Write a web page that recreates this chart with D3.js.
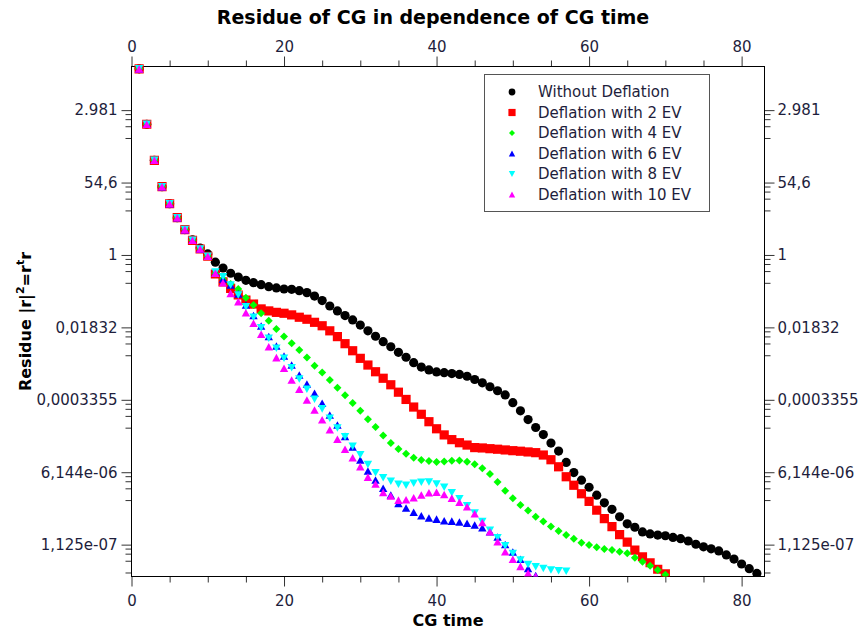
<!DOCTYPE html>
<html>
<head>
<meta charset="utf-8">
<script src="https://cdn.jsdelivr.net/npm/d3@7"></script>
<style>
  body { margin: 0; background: #fff; }
  text { font-family: "DejaVu Sans", Verdana, sans-serif; }
</style>
</head>
<body>
<svg id="chart" width="866" height="637"></svg>
<script>
// residue values, stored as ln(residue) because the axis is base-e log
// index i -> CG time i+1
const lnWithoutDeflation = [10.28, 7.22, 5.23, 3.77, 2.83, 2.06, 1.40, 0.83, 0.38, 0.06,
  -0.40, -0.72, -1.01, -1.22, -1.40, -1.53, -1.64, -1.75, -1.82, -1.88,
  -1.90, -1.97, -2.08, -2.27, -2.52, -2.82, -3.09, -3.35, -3.59, -3.87,
  -4.19, -4.49, -4.79, -5.07, -5.38, -5.65, -5.95, -6.19, -6.35, -6.46,
  -6.50, -6.55, -6.60, -6.70, -6.88, -7.06, -7.28, -7.50, -7.73, -8.16,
  -8.61, -9.09, -9.53, -9.92, -10.39, -10.83, -11.46, -12.02, -12.44, -12.83,
  -13.27, -13.69, -14.05, -14.46, -14.85, -15.04, -15.30, -15.41, -15.47, -15.51,
  -15.60, -15.67, -15.80, -15.98, -16.12, -16.23, -16.35, -16.57, -16.80, -17.07,
  -17.33, -17.59];
const lnDefl2 = [10.28, 7.22, 5.23, 3.77, 2.83, 2.06, 1.40, 0.81, 0.33, -0.07,
  -1.05, -1.49, -1.84, -2.21, -2.49, -2.71, -2.98, -3.09, -3.17, -3.22,
  -3.31, -3.44, -3.55, -3.72, -3.91, -4.19, -4.51, -4.90, -5.29, -5.71,
  -6.08, -6.45, -6.81, -7.17, -7.58, -7.98, -8.40, -8.80, -9.21, -9.60,
  -9.94, -10.20, -10.37, -10.50, -10.64, -10.66, -10.70, -10.73, -10.77, -10.81,
  -10.84, -10.88, -10.92, -11.05, -11.31, -11.70, -12.25, -12.72, -13.19, -13.61,
  -14.10, -14.56, -15.01, -15.45, -15.86, -16.30, -16.67, -17.00, -17.36, -17.62];
const lnDefl4 = [10.28, 7.22, 5.23, 3.77, 2.83, 2.06, 1.40, 0.81, 0.33, -0.07,
  -1.02, -1.33, -1.60, -1.88, -2.36, -2.76, -3.22, -3.63, -4.09, -4.51,
  -4.88, -5.25, -5.67, -6.12, -6.49, -6.91, -7.34, -7.75, -8.17, -8.60,
  -9.07, -9.50, -9.97, -10.39, -10.72, -10.98, -11.20, -11.33, -11.38, -11.44,
  -11.41, -11.36, -11.35, -11.42, -11.56, -11.78, -12.10, -12.54, -13.02, -13.44,
  -13.81, -14.12, -14.46, -14.72, -15.00, -15.25, -15.47, -15.67, -15.90, -16.02,
  -16.15, -16.24, -16.30, -16.39, -16.48, -16.72, -16.94, -17.17, -17.40, -17.66];
const lnDefl6 = [10.28, 7.22, 5.23, 3.77, 2.83, 2.06, 1.40, 0.81, 0.33, -0.07,
  -1.00, -1.33, -1.66, -2.15, -2.76, -3.34, -3.92, -4.50, -5.03, -5.58,
  -6.08, -6.63, -7.13, -7.64, -8.19, -8.84, -9.39, -10.02, -10.61, -11.33,
  -11.93, -12.43, -12.89, -13.26, -13.72, -13.98, -14.21, -14.40, -14.53, -14.59,
  -14.68, -14.70, -14.75, -14.82, -14.92, -15.07, -15.28, -15.58, -15.99, -16.41,
  -16.81, -17.32, -17.71];
const lnDefl8 = [10.28, 7.22, 5.23, 3.77, 2.83, 2.06, 1.40, 0.81, 0.33, -0.07,
  -0.94, -1.20, -1.66, -2.21, -2.86, -3.44, -4.02, -4.60, -5.15, -5.71,
  -6.23, -6.85, -7.42, -7.97, -8.50, -9.02, -9.56, -10.04, -10.57, -11.03,
  -11.57, -12.03, -12.31, -12.50, -12.66, -12.72, -12.61, -12.55, -12.54, -12.65,
  -12.83, -13.13, -13.47, -13.86, -14.25, -14.73, -15.21, -15.62, -16.07, -16.49,
  -16.85, -17.10, -17.22, -17.32, -17.40, -17.44, -17.47];
const lnDefl10 = [10.28, 7.22, 5.23, 3.77, 2.83, 2.06, 1.40, 0.81, 0.33, -0.07,
  -1.01, -1.53, -2.12, -2.58, -3.19, -3.77, -4.38, -5.07, -5.67, -6.26,
  -6.91, -7.42, -8.01, -8.56, -9.10, -9.65, -10.18, -10.73, -11.20, -11.69,
  -12.27, -12.65, -13.12, -13.31, -13.54, -13.52, -13.41, -13.26, -13.13, -13.11,
  -13.23, -13.43, -13.66, -13.91, -14.29, -14.78, -15.29, -15.84, -16.39, -16.81,
  -17.20, -17.57, -17.75];

const seriesNames = ["Without Deflation", "Deflation with 2 EV", "Deflation with 4 EV",
  "Deflation with 6 EV", "Deflation with 8 EV", "Deflation with 10 EV"];
const seriesValues = [lnWithoutDeflation, lnDefl2, lnDefl4, lnDefl6, lnDefl8, lnDefl10];
const seriesColors = ["#000000", "#ff0000", "#00ff00", "#0000ff", "#00ffff", "#ff00ff"];
const seriesShapes = ["circle", "square", "diamond", "triUp", "triDown", "triUp"];

const xMajorTicks = [0, 20, 40, 60, 80];
const yTickExps = [8, 4, 0, -4, -8, -12, -16];
const yTickLabels = ["2.981", "54,6", "1", "0,01832", "0,0003355", "6,144e-06", "1,125e-07"];

const plot = {left: 131.5, right: 764.5, top: 66.5, bottom: 576.5};
const labelColor = "#1e1e3c";

const svg = d3.select("#chart");

const x = d3.scaleLinear().domain([0, 83]).range([plot.left, plot.right]);
const y = d3.scaleLog().base(Math.E)
  .domain([Math.exp(-17.76), Math.exp(10.41)])
  .range([plot.bottom, plot.top]);

// marker shapes, s = half size
function shapePath(shape, s){
  if(shape == "circle"){
    return `M${-s},0a${s},${s} 0 1,0 ${2*s},0a${s},${s} 0 1,0 ${-2*s},0Z`;
  }
  if(shape == "square") return `M${-s},${-s}h${2*s}v${2*s}h${-2*s}Z`;
  if(shape == "diamond") return `M0,${-s}L${s},0L0,${s}L${-s},0Z`;
  var h = s * 0.9;
  if(shape == "triUp") return `M0,${-h}L${s},${h}L${-s},${h}Z`;
  return `M0,${h}L${s},${-h}L${-s},${-h}Z`;
}
const plotSize = {circle: 4.6, square: 4.6, diamond: 4, triUp: 4.2, triDown: 4.2};
const legendSize = {circle: 3.4, square: 3.6, diamond: 3, triUp: 3.2, triDown: 3.2};

// minor ticks
const xMinorTicks = d3.range(0, 85, 5).filter(d => xMajorTicks.indexOf(d) < 0);
const yMinorTicks = [];
for(var k = -5; k <= 2; k++){
  var lo = Math.exp(4*k), hi = Math.exp(4*k + 4);
  for(var i = 1; i < 5; i++){
    var v = lo + i*(hi - lo)/5;
    if(v > y.domain()[0] && v < y.domain()[1]) yMinorTicks.push(v);
  }
}
const yMajorTicks = yTickExps.map(e => Math.exp(e));

function styleAxis(g){
  g.select(".domain").remove();
  g.selectAll("line").attr("stroke", "#333");
  g.selectAll("text").attr("fill", labelColor)
    .style("font-family", '"DejaVu Sans", sans-serif').style("font-size", "15px");
}

// minor tick axes
svg.append("g").attr("transform", `translate(0,${plot.bottom})`)
  .call(d3.axisBottom(x).tickValues(xMinorTicks).tickSize(6).tickFormat("")).call(styleAxis);
svg.append("g").attr("transform", `translate(0,${plot.top})`)
  .call(d3.axisTop(x).tickValues(xMinorTicks).tickSize(6).tickFormat("")).call(styleAxis);
svg.append("g").attr("transform", `translate(${plot.left},0)`)
  .call(d3.axisLeft(y).tickValues(yMinorTicks).tickSize(6).tickFormat("")).call(styleAxis);
svg.append("g").attr("transform", `translate(${plot.right},0)`)
  .call(d3.axisRight(y).tickValues(yMinorTicks).tickSize(6).tickFormat("")).call(styleAxis);

// major tick axes
svg.append("g").attr("transform", `translate(0,${plot.bottom})`)
  .call(d3.axisBottom(x).tickValues(xMajorTicks).tickSize(10).tickPadding(9)).call(styleAxis);
svg.append("g").attr("transform", `translate(0,${plot.top})`)
  .call(d3.axisTop(x).tickValues(xMajorTicks).tickSize(10).tickPadding(5)).call(styleAxis);
svg.append("g").attr("transform", `translate(${plot.left},0)`)
  .call(d3.axisLeft(y).tickValues(yMajorTicks).tickSize(10).tickPadding(4)
    .tickFormat((d, i) => yTickLabels[i])).call(styleAxis);
svg.append("g").attr("transform", `translate(${plot.right},0)`)
  .call(d3.axisRight(y).tickValues(yMajorTicks).tickSize(10).tickPadding(3)
    .tickFormat((d, i) => yTickLabels[i])).call(styleAxis);

// frame
svg.append("rect")
  .attr("x", plot.left).attr("y", plot.top)
  .attr("width", plot.right - plot.left).attr("height", plot.bottom - plot.top)
  .attr("fill", "none").attr("stroke", "#000").attr("stroke-width", 1);

// points
const clip = svg.append("clipPath").attr("id", "clip").append("rect")
  .attr("x", plot.left).attr("y", plot.top - 5)
  .attr("width", plot.right - plot.left).attr("height", plot.bottom - plot.top + 5);

for(var s = 0; s < seriesNames.length; s++){
  const shape = seriesShapes[s];
  svg.append("g").attr("clip-path", "url(#clip)")
    .selectAll("path")
    .data(seriesValues[s])
    .enter()
    .append("path")
      .attr("d", shapePath(shape, plotSize[shape]))
      .attr("transform", (d, i) => `translate(${x(i + 1)},${y(Math.exp(d))})`)
      .attr("fill", seriesColors[s]);
}

// legend
const legend = svg.append("g");
legend.append("rect")
  .attr("x", 484.5).attr("y", 74.5).attr("width", 225).attr("height", 137)
  .attr("fill", "#fff").attr("stroke", "#555");
seriesNames.forEach(function(name, i){
  const ly = 92 + i*20.5;
  legend.append("path")
    .attr("d", shapePath(seriesShapes[i], legendSize[seriesShapes[i]]))
    .attr("transform", `translate(512,${ly})`)
    .attr("fill", seriesColors[i]);
  legend.append("text")
    .attr("x", 538).attr("y", ly).attr("dy", "0.36em")
    .attr("fill", labelColor).style("font-size", "15px")
    .text(name);
});

// titles
svg.append("text")
  .attr("x", 433).attr("y", 24).attr("text-anchor", "middle")
  .style("font-size", "19px").style("font-weight", "bold")
  .text("Residue of CG in dependence of CG time");

svg.append("text")
  .attr("x", (plot.left + plot.right)/2).attr("y", 626).attr("text-anchor", "middle")
  .style("font-size", "16px").style("font-weight", "bold")
  .text("CG time");

const yLabel = svg.append("text")
  .attr("transform", `translate(31,${(plot.top + plot.bottom)/2}) rotate(-90)`)
  .attr("text-anchor", "middle")
  .style("font-size", "16px").style("font-weight", "bold");
yLabel.append("tspan").text("Residue |r|");
yLabel.append("tspan").attr("dy", -7).style("font-size", "11px").text("2");
yLabel.append("tspan").attr("dy", 7).text("=r");
yLabel.append("tspan").attr("dy", -7).style("font-size", "11px").text("t");
yLabel.append("tspan").attr("dy", 7).text("r");
</script>
</body>
</html>
